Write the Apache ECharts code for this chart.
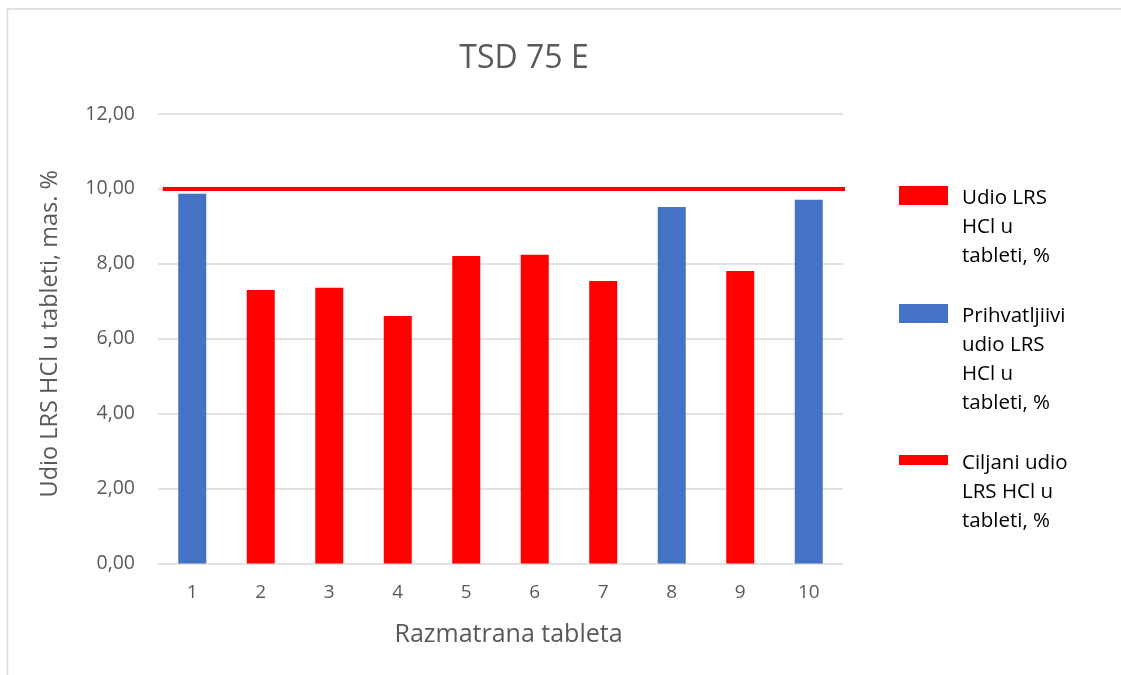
<!DOCTYPE html>
<html>
<head>
<meta charset="utf-8">
<script src="https://cdn.jsdelivr.net/npm/echarts@6/dist/echarts.min.js"></script>
<style>
html,body{margin:0;padding:0;background:#fff;}
#c{width:1121px;height:675px;}
</style>
</head>
<body>
<div id="c"></div>
<script>
const categories = ['1','2','3','4','5','6','7','8','9','10'];
const redValues  = [null, 7.30, 7.36, 6.61, 8.21, 8.24, 7.54, null, 7.81, null];
const blueValues = [9.87, null, null, null, null, null, null, 9.52, null, 9.71];
const targetX = [0.007, 1.026];
const targetY = [10, 10];
const yTickLabels = ['0,00','2,00','4,00','6,00','8,00','10,00','12,00'];
const seriesNames = ['Udio LRS HCl u tableti, %', 'Prihvatljiivi udio LRS HCl u tableti, %', 'Ciljani udio LRS HCl u tableti, %'];
const legendLabels = ['Udio LRS\nHCl u\ntableti, %', 'Prihvatljiivi\nudio LRS\nHCl u\ntableti, %', 'Ciljani udio\nLRS HCl u\ntableti, %'];

const FONT = 'Open Sans';
const TXT = '#595959';
const LH = 29;
const chart = echarts.init(document.getElementById('c'), null, {renderer:'canvas'});

// icon: a swatch near the top of a tall, otherwise empty box, so the swatch sits beside the first text line
function legendFor(i, top, iconTop, iconH) {
  const lines = legendLabels[i].split('\n').length;
  const H = lines * LH;
  const icon = 'path://M0,0M0,' + iconTop + 'H49V' + (iconTop + iconH) + 'H0Z M0,' + H;
  return {
    show: true,
    data: [seriesNames[i]],
    left: 899,
    top: top,
    padding: 0,
    orient: 'vertical',
    itemWidth: 49,
    itemHeight: H,
    icon: icon,
    itemStyle: {borderWidth: 0},
    selectedMode: false,
    formatter: function () { return legendLabels[i]; },
    textStyle: {fontFamily: FONT, fontSize: 20.5, lineHeight: LH, color: '#000', padding: [0, 0, 0, 9]}
  };
}

const option = {
  animation: false,
  backgroundColor: '#fff',
  graphic: [{
    type: 'rect', silent: true, z: -1,
    shape: {x: 7.5, y: 9, width: 1125, height: 700},
    style: {fill: 'none', stroke: '#d9d9d9', lineWidth: 1.5}
  }],
  title: {
    text: 'TSD 75 E',
    left: 519, top: 38, textAlign: 'center',
    textStyle: {fontFamily: FONT, fontSize: 32, fontWeight: 'normal', color: TXT}
  },
  legend: [
    legendFor(0, 183.5, 2.5, 19),
    legendFor(1, 301.5, 2.5, 19),
    legendFor(2, 448.5, 6.5, 10)
  ],
  grid: {left: 158, right: 278, top: 114, bottom: 111.5, containLabel: false},
  xAxis: [{
    type: 'category',
    data: categories,
    name: 'Razmatrana tableta',
    nameLocation: 'middle',
    nameGap: 59,
    nameTextStyle: {fontFamily: FONT, fontSize: 25, color: TXT, padding: [0, 0, 0, 16]},
    axisLine: {show: false},
    axisTick: {show: false},
    axisLabel: {fontFamily: FONT, fontSize: 19, color: TXT, margin: 20}
  }, {
    type: 'value', min: 0, max: 1, show: false, position: 'top'
  }],
  yAxis: {
    type: 'value',
    min: 0, max: 12, interval: 2,
    name: 'Udio LRS HCl u tableti, mas. %',
    nameLocation: 'middle',
    nameGap: 96,
    nameTextStyle: {fontFamily: FONT, fontSize: 23.5, color: TXT, padding: [0, 0, 0, 10]},
    axisLine: {show: false},
    axisTick: {show: false},
    splitLine: {lineStyle: {color: '#d9d9d9', width: 1.5}},
    axisLabel: {
      fontFamily: FONT, fontSize: 19.5, color: TXT, margin: 23,
      formatter: function (v) { return yTickLabels[Math.round(v / 2)]; }
    }
  },
  series: [{
    name: seriesNames[0],
    type: 'bar',
    data: redValues,
    barWidth: 28,
    barGap: '-100%',
    itemStyle: {color: '#ff0000'}
  }, {
    name: seriesNames[1],
    type: 'bar',
    data: blueValues,
    barWidth: 28,
    barGap: '-100%',
    itemStyle: {color: '#4472c4'}
  }, {
    name: seriesNames[2],
    type: 'line',
    xAxisIndex: 1,
    data: targetX.map(function (x, i) { return [x, targetY[i]]; }),
    showSymbol: false,
    symbol: 'none',
    clip: false,
    z: 5,
    color: '#ff0000',
    lineStyle: {color: '#ff0000', width: 4}
  }]
};
chart.setOption(option);
</script>
</body>
</html>
